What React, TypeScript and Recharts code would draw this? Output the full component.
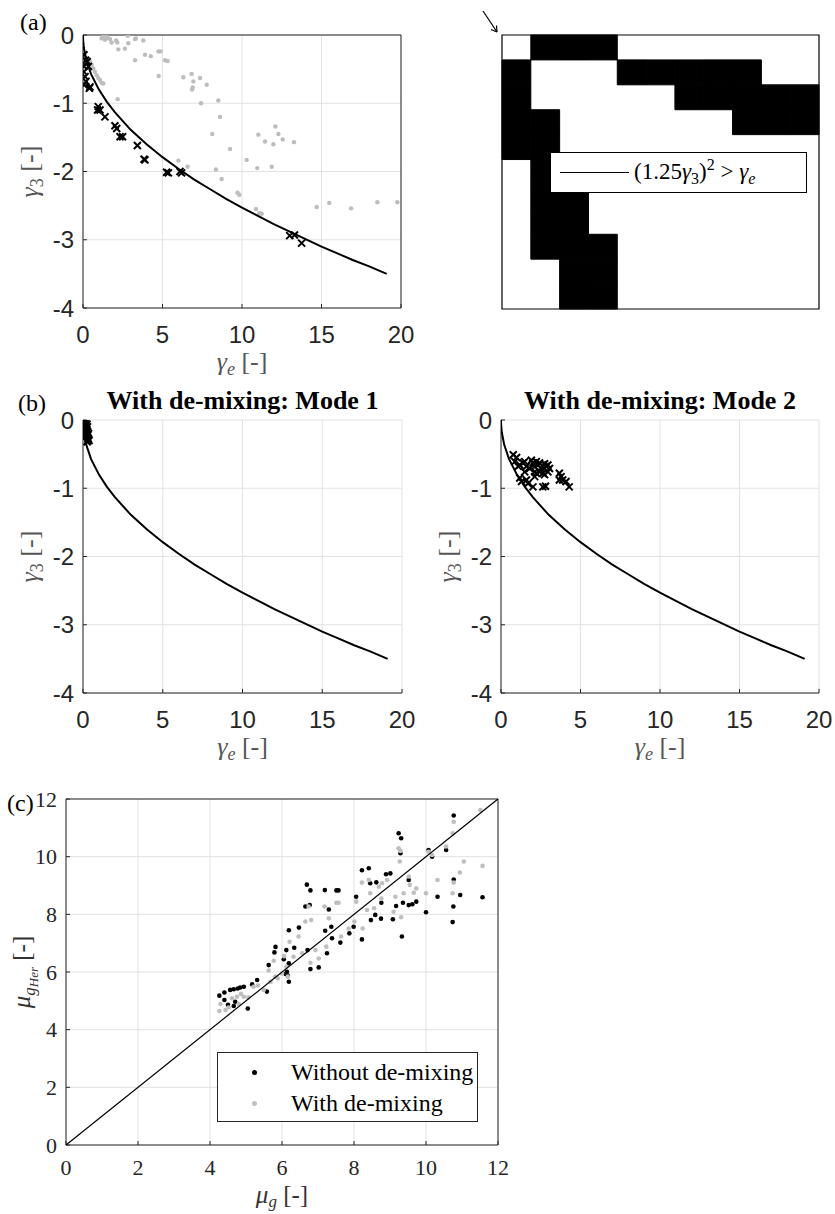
import React from "react";
import {
  ScatterChart,
  Scatter,
  XAxis,
  YAxis,
  CartesianGrid,
  ReferenceArea,
  Legend,
  Label,
} from "recharts";

type Pt = [number, number];

// boundary curve (1.25*g3)^2 = ge
const curveGe = [0, 0.01, 0.05, 0.2, 0.5, 1, 1.5, 2, 3, 4, 5, 6, 7, 8, 9, 10, 11, 12, 13, 14, 15, 16, 17, 18, 19.1];
const curveG3 = [0, -0.08, -0.18, -0.36, -0.57, -0.8, -0.98, -1.13, -1.39, -1.6, -1.79, -1.96, -2.12, -2.26, -2.4, -2.53, -2.65, -2.77, -2.88, -2.99, -3.1, -3.2, -3.3, -3.39, -3.5];

// (a) gray dots and black crosses
const aGray: Pt[] = [
  [1.17, -0.05], [1.28, -0.01], [1.45, -0.01], [1.53, -0.04], [1.38, -0.07], [1.7, -0.06], [1.8, -0.11],
  [2.08, -0.08], [2.16, -0.11], [2.22, -0.21], [2.64, -0.2], [2.81, -0.01], [2.85, -0.12], [3.27, -0.06],
  [3.33, -0.05], [3.79, -0.08], [3.27, -0.37], [3.9, -0.29], [4.26, -0.31], [4.74, -0.24], [4.88, -0.24],
  [5.16, -0.37], [5.32, -0.38], [4.76, -0.6], [6.31, -0.62], [6.83, -0.57], [6.94, -0.68], [7.36, -0.63],
  [7.78, -0.73], [6.86, -0.8], [6.9, -0.77], [7.42, -1.0], [8.51, -0.96], [8.62, -1.2], [8.13, -1.45],
  [9.25, -1.67], [6.0, -1.84], [6.58, -1.93], [8.36, -1.97], [8.72, -2.11], [10.29, -1.83], [10.96, -1.95],
  [11.87, -1.93], [9.71, -2.31], [9.83, -2.34], [10.88, -2.55], [11.09, -2.61], [11.24, -2.62], [12.1, -1.34],
  [12.29, -1.45], [12.56, -1.53], [11.03, -1.46], [11.45, -1.56], [11.97, -1.6], [13.27, -1.57], [2.18, -0.94],
  [14.7, -2.52], [15.49, -2.46], [16.86, -2.54], [18.51, -2.45], [19.77, -2.45], [0.34, -0.37], [0.44, -0.39],
  [0.55, -0.44], [0.65, -0.49], [0.75, -0.54], [0.86, -0.59], [0.96, -0.63], [1.07, -0.66], [1.17, -0.7],
  [1.28, -0.71],
];
const aCross: Pt[] = [
  [0.06, -0.29], [0.17, -0.37], [0.27, -0.39], [0.06, -0.46], [0.34, -0.46], [0.06, -0.54], [0.13, -0.61],
  [0.19, -0.68], [0.06, -0.73], [0.4, -0.78], [0.44, -0.76], [0.96, -1.05], [0.92, -1.1], [1.07, -1.1],
  [1.38, -1.2], [2.01, -1.33], [2.12, -1.37], [2.33, -1.49], [2.49, -1.49], [3.42, -1.62], [3.84, -1.82],
  [3.9, -1.83], [5.26, -2.01], [5.37, -2.02], [6.1, -2.0], [6.2, -2.02], [13.0, -2.94], [13.3, -2.93],
  [13.75, -3.05],
];

// (a) right: binary map, 11 x 11
const maskRows = [
  "01110000000",
  "10001111100",
  "10000011111",
  "11000000111",
  "11000000000",
  "01000000000",
  "01100000000",
  "01100000000",
  "01110000000",
  "00110000000",
  "00110000000",
];

// (b) modes
const mode1: Pt[] = [
  [0.02, 0], [0.08, -0.02], [0.12, -0.05], [0.05, -0.07], [0.18, -0.08], [0.1, -0.11], [0.22, -0.13],
  [0.15, -0.15], [0.28, -0.17], [0.2, -0.19], [0.3, -0.22], [0.25, -0.24], [0.33, -0.27], [0.3, -0.3],
  [0.15, -0.03], [0.25, -0.06], [0.28, -0.1], [0.1, -0.13], [0.2, -0.22], [0.35, -0.2], [0.38, -0.3],
  [0.26, -0.32],
];
const mode2: Pt[] = [
  [0.77, -0.51], [0.98, -0.55], [0.87, -0.61], [1.08, -0.68], [1.18, -0.66], [1.39, -0.63], [1.49, -0.61],
  [1.6, -0.68], [1.91, -0.59], [2.01, -0.63], [2.12, -0.68], [2.22, -0.61], [2.32, -0.66], [2.43, -0.63],
  [2.53, -0.71], [2.63, -0.68], [2.74, -0.64], [2.84, -0.68], [2.95, -0.66], [2.12, -0.76], [2.22, -0.78],
  [2.63, -0.78], [2.74, -0.8], [2.95, -0.76], [1.18, -0.85], [1.29, -0.9], [1.6, -0.88], [1.7, -0.93],
  [2.01, -0.98], [2.63, -0.98], [2.8, -0.97], [3.67, -0.78], [3.78, -0.83], [3.88, -0.88], [4.09, -0.9],
  [4.29, -0.98], [1.49, -0.76], [1.8, -0.71], [2.12, -0.83], [2.43, -0.76], [3.05, -0.71], [3.67, -0.88],
];

// (c) mu_g vs mu_gHer
const withoutDemix: Pt[] = [
  [4.26, 5.18], [4.4, 5.29], [4.4, 5.03], [4.5, 4.86], [4.56, 5.38], [4.66, 5.4], [4.7, 4.97], [4.77, 5.43],
  [4.84, 5.46], [4.94, 5.49], [4.66, 4.82], [5.05, 4.73], [5.17, 5.57], [5.31, 5.72], [5.58, 5.32],
  [5.63, 6.24], [5.79, 6.68], [5.82, 6.87], [6.05, 6.44], [6.12, 6.76], [6.16, 5.88], [6.19, 6.3],
  [6.14, 6.01], [6.1, 5.93], [6.19, 5.66], [6.34, 6.84], [6.47, 7.54], [6.19, 7.45], [6.69, 9.03],
  [6.79, 8.83], [6.77, 8.32], [6.65, 8.27], [6.71, 6.76], [6.79, 6.1], [7.02, 6.16], [7.19, 8.84],
  [7.2, 7.43], [7.25, 6.65], [7.3, 8.17], [7.37, 7.57], [7.39, 7.17], [7.51, 8.83], [7.57, 8.83],
  [7.62, 7.02], [7.87, 7.34], [7.99, 7.57], [8.06, 8.61], [8.22, 9.53], [8.22, 7.13], [8.41, 9.6],
  [8.45, 9.08], [8.47, 7.8], [8.62, 9.11], [8.75, 7.85], [8.76, 8.4], [8.59, 7.98], [8.89, 9.39],
  [9.01, 9.42], [9.08, 7.83], [9.17, 8.29], [9.24, 10.81], [9.29, 10.12], [9.31, 10.64], [9.33, 7.23],
  [9.36, 8.4], [9.52, 9.19], [9.52, 8.32], [9.62, 8.35], [9.73, 8.44], [10.0, 8.07], [10.07, 10.23],
  [10.17, 10.0], [10.32, 8.61], [10.56, 10.23], [10.77, 11.43], [10.74, 7.73], [10.76, 8.27],
  [10.95, 8.67], [10.77, 9.21], [11.57, 8.59],
];
const withDemix: Pt[] = [
  [4.26, 4.65], [4.29, 4.89], [4.43, 4.68], [4.52, 4.77], [4.61, 5.09], [4.75, 5.14], [4.86, 5.24],
  [4.8, 4.89], [4.94, 5.14], [5.07, 5.12], [5.21, 5.49], [5.33, 5.53], [5.49, 5.38], [5.63, 6.05],
  [5.68, 5.66], [5.77, 6.39], [5.81, 5.84], [5.88, 5.78], [6.0, 5.95], [6.06, 6.55], [6.12, 6.18],
  [6.16, 5.84], [6.21, 7.05], [6.32, 6.53], [6.46, 7.23], [6.56, 6.65], [6.65, 7.75], [6.74, 8.27],
  [6.81, 7.8], [6.79, 6.32], [6.93, 6.76], [7.02, 6.47], [7.18, 8.27], [7.23, 6.88], [7.3, 7.86],
  [7.51, 8.4], [7.57, 8.4], [7.64, 7.23], [7.85, 7.51], [8.01, 7.75], [8.06, 8.44], [8.22, 9.1],
  [8.24, 7.51], [8.36, 8.15], [8.41, 9.19], [8.45, 8.73], [8.56, 8.21], [8.69, 8.96], [8.76, 8.55],
  [8.78, 9.08], [8.92, 9.19], [9.1, 8.09], [9.15, 8.61], [9.24, 10.29], [9.29, 10.2], [9.27, 9.83],
  [9.31, 7.9], [9.38, 8.73], [9.52, 9.31], [9.55, 9.02], [9.66, 8.75], [9.73, 8.9], [10.0, 8.73],
  [10.07, 10.17], [10.17, 10.06], [10.32, 9.19], [10.56, 10.35], [10.74, 10.81], [10.77, 11.21],
  [10.74, 8.73], [10.77, 9.1], [10.94, 9.45], [11.05, 9.83], [11.51, 11.62], [11.57, 9.68],
];
const diagonal: Pt[] = [[0, 0], [12, 12]];

const geTicks = [0, 5, 10, 15, 20];
const g3Ticks = [-4, -3, -2, -1, 0];
const muTicks = [0, 2, 4, 6, 8, 10, 12];

const SANS = "'Liberation Sans', Arial, sans-serif";
const SERIF = "'Liberation Serif', 'Times New Roman', serif";
const AX = "#262626";
const GRID = "#e2e2e2";

const toXY = (pts: Pt[]) => pts.map(([x, y]) => ({ x, y }));
const curve = curveGe.map((x, i) => ({ x, y: curveG3[i] }));
const blackCells = maskRows.flatMap((row, r) =>
  row.split("").flatMap((c, col) => (c === "1" ? [{ r, col }] : []))
);

const crossShape = (p: any) => {
  const s = 3.5;
  return (
    <path
      d={`M${p.cx - s},${p.cy - s}L${p.cx + s},${p.cy + s}M${p.cx - s},${p.cy + s}L${p.cx + s},${p.cy - s}`}
      stroke="#000"
      strokeWidth={2}
      fill="none"
    />
  );
};
const dotShape = (fill: string, r: number) => (p: any) => <circle cx={p.cx} cy={p.cy} r={r} fill={fill} />;
const noShape = () => <g />;

// tick text with explicit font, so size is not overridden
const tickText = (family: string, size: number) => (p: any) => {
  const dy = p.verticalAnchor === "start" ? "0.71em" : p.verticalAnchor === "end" ? "0" : "0.355em";
  return (
    <text x={p.x} y={p.y} textAnchor={p.textAnchor} fill={AX} style={{ fontFamily: family, fontSize: size }} dy={dy}>
      {p.payload.value}
    </text>
  );
};

// gamma_e [-] style axis label, below the plot
const geLabel = (color: string) => (props: any) => {
  const vb = props.viewBox;
  return (
    <text x={vb.x + vb.width / 2} y={vb.y + 62} textAnchor="middle" fill={color} style={{ fontFamily: SERIF, fontSize: 26 }}>
      <tspan fontStyle="italic">γ</tspan>
      <tspan fontStyle="italic" style={{ fontSize: 18 }} dy={5}>e</tspan>
      <tspan dy={-5}>{"   [-]"}</tspan>
    </text>
  );
};
const g3Label = (color: string) => (props: any) => {
  const vb = props.viewBox;
  const cx = vb.x + vb.width - 45;
  const cy = vb.y + vb.height / 2;
  return (
    <text x={cx} y={cy} transform={`rotate(-90 ${cx} ${cy})`} textAnchor="middle" fill={color} style={{ fontFamily: SERIF, fontSize: 26 }}>
      <tspan fontStyle="italic">γ</tspan>
      <tspan style={{ fontSize: 18 }} dy={5}>3</tspan>
      <tspan dy={-5}>{"   [-]"}</tspan>
    </text>
  );
};

function GammaPlot({
  width,
  height,
  margin,
  gray,
  crosses,
  box,
}: {
  width: number;
  height: number;
  margin: { top: number; right: number; bottom: number; left: number };
  gray?: Pt[];
  crosses: Pt[];
  box?: boolean;
}) {
  return (
    <ScatterChart width={width} height={height} margin={margin}>
      <CartesianGrid stroke={GRID} />
      <XAxis
        type="number"
        dataKey="x"
        domain={[0, 20]}
        ticks={geTicks}
        interval={0}
        height={30}
        tickSize={-4}
        tickMargin={22}
        stroke={AX}
        tick={tickText(SANS, 24)}
        allowDataOverflow
      >
        <Label content={geLabel("#555")} />
      </XAxis>
      <YAxis
        type="number"
        dataKey="y"
        domain={[-4, 0]}
        ticks={g3Ticks}
        interval={0}
        width={60}
        tickSize={-4}
        tickMargin={13}
        stroke={AX}
        tick={tickText(SANS, 24)}
        allowDataOverflow
      >
        <Label content={g3Label("#555")} />
      </YAxis>
      {box && (
        <XAxis xAxisId="top" orientation="top" type="number" domain={[0, 20]} ticks={geTicks} interval={0} height={1} tickSize={-4} tick={false} stroke={AX} />
      )}
      {box && (
        <YAxis yAxisId="right" orientation="right" type="number" domain={[-4, 0]} ticks={g3Ticks} interval={0} width={1} tickSize={-4} tick={false} stroke={AX} />
      )}
      {gray && <Scatter data={toXY(gray)} shape={dotShape("#bdbdbd", 2.2)} isAnimationActive={false} />}
      <Scatter
        data={curve}
        line={{ stroke: "#000", strokeWidth: 2 }}
        lineType="joint"
        shape={noShape}
        isAnimationActive={false}
      />
      <Scatter data={toXY(crosses)} shape={crossShape} isAnimationActive={false} />
    </ScatterChart>
  );
}

function MaskPlot() {
  return (
    <ScatterChart width={415} height={330} margin={{ top: 35, right: 16, bottom: 21, left: 82 }}>
      <XAxis type="number" dataKey="x" domain={[0, 11]} hide />
      <YAxis type="number" dataKey="y" domain={[0, 11]} reversed hide />
      {blackCells.map((c) => (
        <ReferenceArea
          key={`${c.r}-${c.col}`}
          x1={c.col}
          x2={c.col + 1}
          y1={c.r}
          y2={c.r + 1}
          fill="#000"
          fillOpacity={1}
          stroke="#000"
          strokeWidth={1}
        />
      ))}
      <ReferenceArea x1={0} x2={11} y1={0} y2={11} fill="none" stroke="#000" strokeWidth={1.2} />
      <Scatter
        data={blackCells.map((c) => ({ x: c.col + 0.5, y: c.r + 0.5 }))}
        shape={noShape}
        isAnimationActive={false}
      />
      <Legend
        layout="horizontal"
        verticalAlign="middle"
        align="center"
        wrapperStyle={{ left: 130, top: 152, width: 257, height: 41 }}
        content={() => (
          <div
            style={{
              boxSizing: "border-box",
              width: 257,
              height: 41,
              border: "1px solid #000",
              background: "#fff",
              display: "flex",
              alignItems: "center",
              fontFamily: SERIF,
              fontSize: 23,
              color: "#000",
            }}
          >
            <div style={{ width: 69, height: 0, borderTop: "1.3px solid #000", marginLeft: 9, marginRight: 5 }} />
            <span style={{ whiteSpace: "nowrap" }}>
              (1.25<i>γ</i>
              <sub style={{ fontSize: 16 }}>3</sub>)<sup style={{ fontSize: 16 }}>2</sup> &gt; <i>γ</i>
              <sub style={{ fontSize: 16, fontStyle: "italic" }}>e</sub>
            </span>
          </div>
        )}
      />
    </ScatterChart>
  );
}

const muXLabel = (props: any) => {
  const vb = props.viewBox;
  return (
    <text x={vb.x + vb.width / 2} y={vb.y + 58} textAnchor="middle" fill="#333" style={{ fontFamily: SERIF, fontSize: 25 }}>
      <tspan fontStyle="italic">μ</tspan>
      <tspan fontStyle="italic" style={{ fontSize: 17 }} dy={4}>g</tspan>
      <tspan dy={-4}>{"  [-]"}</tspan>
    </text>
  );
};
const muYLabel = (props: any) => {
  const vb = props.viewBox;
  const cx = vb.x + vb.width - 36;
  const cy = vb.y + vb.height / 2;
  return (
    <text x={cx} y={cy} transform={`rotate(-90 ${cx} ${cy})`} textAnchor="middle" fill="#333" style={{ fontFamily: SERIF, fontSize: 25 }}>
      <tspan fontStyle="italic">μ</tspan>
      <tspan fontStyle="italic" style={{ fontSize: 17 }} dy={5}>g</tspan>
      <tspan fontStyle="italic" style={{ fontSize: 13 }} dy={3}>Her</tspan>
      <tspan dy={-8}>{"   [-]"}</tspan>
    </text>
  );
};

function MuPlot() {
  return (
    <ScatterChart width={520} height={454} margin={{ top: 38, right: 21, bottom: 39, left: 16 }}>
      <CartesianGrid stroke={GRID} />
      <XAxis
        type="number"
        dataKey="x"
        domain={[0, 12]}
        ticks={muTicks}
        interval={0}
        height={30}
        tickSize={-4}
        tickMargin={18}
        stroke={AX}
        tick={tickText(SERIF, 22)}
      >
        <Label content={muXLabel} />
      </XAxis>
      <YAxis
        type="number"
        dataKey="y"
        domain={[0, 12]}
        ticks={muTicks}
        interval={0}
        width={50}
        tickSize={-4}
        tickMargin={13}
        stroke={AX}
        tick={tickText(SERIF, 22)}
      >
        <Label content={muYLabel} />
      </YAxis>
      <XAxis xAxisId="top" orientation="top" type="number" domain={[0, 12]} ticks={muTicks} interval={0} height={1} tickSize={-4} tick={false} stroke={AX} />
      <YAxis yAxisId="right" orientation="right" type="number" domain={[0, 12]} ticks={muTicks} interval={0} width={1} tickSize={-4} tick={false} stroke={AX} />
      <Scatter data={toXY(withoutDemix)} shape={dotShape("#000", 2.3)} isAnimationActive={false} />
      <Scatter data={toXY(withDemix)} shape={dotShape("#bfbfbf", 2.3)} isAnimationActive={false} />
      <Scatter
        data={toXY(diagonal)}
        line={{ stroke: "#000", strokeWidth: 1.2 }}
        lineType="joint"
        shape={noShape}
        isAnimationActive={false}
      />
      <Legend
        layout="horizontal"
        verticalAlign="middle"
        align="center"
        wrapperStyle={{ left: 217, top: 292, width: 261, height: 70 }}
        content={() => (
          <div
            style={{
              boxSizing: "border-box",
              width: 261,
              height: 70,
              border: "1px solid #262626",
              background: "#fff",
              fontFamily: SERIF,
              fontSize: 24,
              color: "#000",
              position: "relative",
            }}
          >
            {[
              { name: "Without de-mixing", color: "#000", top: 19 },
              { name: "With de-mixing", color: "#bfbfbf", top: 50 },
            ].map((e) => (
              <div key={e.name} style={{ position: "absolute", left: 0, top: e.top - 14, height: 28, display: "flex", alignItems: "center" }}>
                <span style={{ display: "inline-block", width: 5, height: 5, borderRadius: 3, background: e.color, marginLeft: 34, marginRight: 34 }} />
                <span style={{ whiteSpace: "nowrap" }}>{e.name}</span>
              </div>
            ))}
          </div>
        )}
      />
    </ScatterChart>
  );
}

const panelLabel = (text: string, left: number, top: number) => (
  <div
    style={{
      position: "absolute",
      left,
      top,
      fontFamily: SERIF,
      fontSize: 24,
      lineHeight: "26px",
    }}
  >
    {text}
  </div>
);

const title = (text: string, left: number, width: number) => (
  <div
    style={{
      position: "absolute",
      left,
      width,
      top: 386,
      textAlign: "center",
      fontFamily: SERIF,
      fontWeight: "bold",
      fontSize: 26,
      lineHeight: "30px",
      whiteSpace: "nowrap",
      color: "#000",
    }}
  >
    {text}
  </div>
);

export default function App() {
  return (
    <div style={{ position: "absolute", left: 0, top: 0, width: 835, height: 1214, background: "#fff", overflow: "hidden" }}>
      <div style={{ position: "absolute", left: 0, top: 0 }}>
        <GammaPlot width={420} height={390} margin={{ top: 34, right: 18, bottom: 52, left: 23 }} gray={aGray} crosses={aCross} box />
      </div>
      <div style={{ position: "absolute", left: 420, top: 0 }}>
        <MaskPlot />
      </div>
      <div style={{ position: "absolute", left: 0, top: 380 }}>
        <GammaPlot width={420} height={400} margin={{ top: 40, right: 18, bottom: 57, left: 23 }} crosses={mode1} />
      </div>
      <div style={{ position: "absolute", left: 420, top: 380 }}>
        <GammaPlot width={415} height={400} margin={{ top: 40, right: 16, bottom: 57, left: 21 }} crosses={mode2} />
      </div>
      <div style={{ position: "absolute", left: 0, top: 760 }}>
        <MuPlot />
      </div>
      {panelLabel("(a)", 20, 9)}
      {panelLabel("(b)", 18, 390)}
      {panelLabel("(c)", 7, 790)}
      {title("With de-mixing: Mode 1", 83, 319)}
      {title("With de-mixing: Mode 2", 501, 318)}
      <svg style={{ position: "absolute", left: 470, top: 0 }} width={40} height={40}>
        <line x1={13} y1={11} x2={27} y2={32} stroke="#000" strokeWidth={1.2} />
        <path d="M27,32 L21,29.5 M27,32 L26.5,25.5" stroke="#000" strokeWidth={1.2} fill="none" />
      </svg>
    </div>
  );
}
